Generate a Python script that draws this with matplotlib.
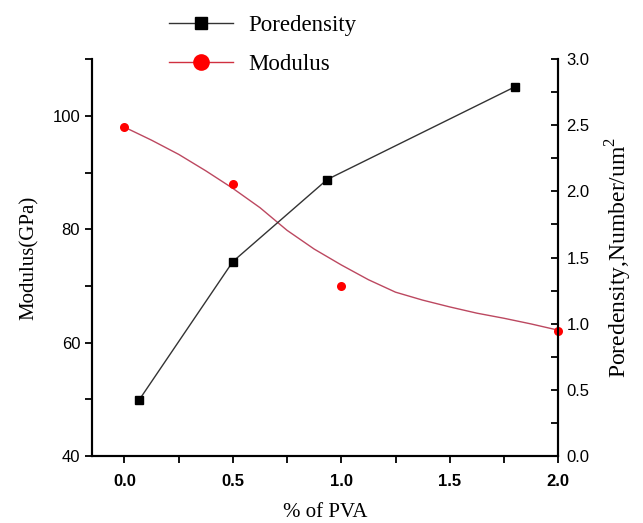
import matplotlib.pyplot as plt
from matplotlib.lines import Line2D
from matplotlib.ticker import MultipleLocator

# data
pva_pore = [0.066, 0.5, 0.935, 1.80]
poredensity = [0.42, 1.47, 2.09, 2.79]

pva_mod = [0.0, 0.5, 1.0, 2.0]
modulus = [98.0, 88.0, 70.0, 62.0]

# smooth red trend line
curve_x = [0.0, 0.125, 0.25, 0.375, 0.5, 0.625, 0.75, 0.875, 1.0,
           1.125, 1.25, 1.375, 1.5, 1.625, 1.75, 1.875, 2.0]
curve_y = [98.0, 95.7, 93.2, 90.3, 87.2, 83.8, 79.8, 76.5, 73.7,
           71.1, 68.9, 67.5, 66.3, 65.2, 64.3, 63.3, 62.2]

serif = ['Liberation Serif', 'DejaVu Serif']
sans = ['Liberation Sans', 'DejaVu Sans']

fig = plt.figure(figsize=(6.43, 5.23), dpi=100)
ax = fig.add_axes([0.143, 0.128, 0.725, 0.759])
ax2 = ax.twinx()

ax.plot(curve_x, curve_y, color='#bc4860', lw=1.0, zorder=2)
ax.plot(pva_mod, modulus, 'o', color='#ff0000', ms=6.5, mec='none', zorder=3,
        clip_on=False)
ax2.plot(pva_pore, poredensity, '-s', color='#333333', lw=1.0, ms=6,
         mfc='black', mec='black', zorder=3)

ax.set_xlim(-0.15, 2.0)
ax.set_ylim(40, 110)
ax2.set_ylim(0, 3.0)

ax.xaxis.set_major_locator(MultipleLocator(0.5))
ax.xaxis.set_minor_locator(MultipleLocator(0.25))
ax.yaxis.set_major_locator(MultipleLocator(20))
ax.yaxis.set_minor_locator(MultipleLocator(10))
ax2.yaxis.set_major_locator(MultipleLocator(0.5))
ax2.yaxis.set_minor_locator(MultipleLocator(0.25))

ax.tick_params(axis='x', which='both', direction='out', length=5, width=1.3,
               labelsize=12, pad=8)
ax.tick_params(axis='y', which='both', direction='out', length=5, width=1.3,
               labelsize=12)
ax2.tick_params(axis='y', which='both', direction='in', length=5, width=1.3,
                labelsize=12, pad=6)
for lab in ax.get_xticklabels():
    lab.set_family(sans)
    lab.set_fontweight('bold')
for lab in ax.get_yticklabels() + ax2.get_yticklabels():
    lab.set_family(sans)

for a in (ax, ax2):
    a.spines['top'].set_visible(False)
    for s in ('left', 'right', 'bottom'):
        a.spines[s].set_linewidth(1.5)

ax.set_xlabel('% of PVA', family=serif, fontsize=15, labelpad=10)
ax.set_ylabel('Modulus(GPa)', family=serif, fontsize=15, labelpad=10)
ax2.set_ylabel('Poredensity,Number/um$^{\\mathregular{2}}$', family=serif,
               fontsize=17, labelpad=10)

handles = [
    Line2D([], [], color='#333333', lw=1.0, marker='s', ms=9, mfc='black',
           mec='black'),
    Line2D([], [], color='#d03040', lw=1.0, marker='o', ms=12, mfc='#ff0000',
           mec='none'),
]
fig.legend(handles, ['Poredensity', 'Modulus'], loc='upper left',
           bbox_to_anchor=(0.23, 1.01), frameon=False,
           prop={'family': serif, 'size': 16.5}, handlelength=2.8,
           labelspacing=0.75, handletextpad=0.7)

fig.savefig('out.png', dpi=100)
